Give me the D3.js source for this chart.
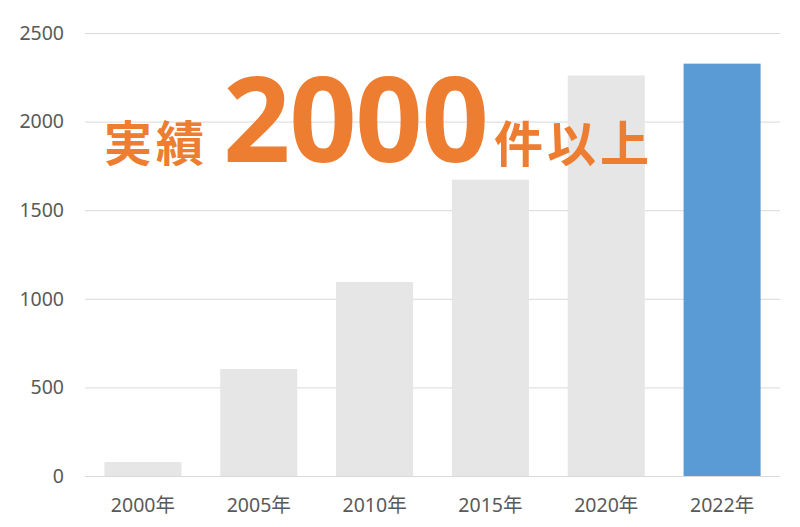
<!DOCTYPE html>
<html>
<head>
<meta charset="utf-8">
<script src="https://cdn.jsdelivr.net/npm/d3@7"></script>
<style>
  body { margin: 0; background: #fff; }
  text { font-family: "Noto Sans", "Noto Sans CJK JP", sans-serif; }
</style>
</head>
<body>
<div id="chart"></div>
<script>
const years = ["2000年", "2005年", "2010年", "2015年", "2020年", "2022年"];
const counts = [79, 604, 1095, 1672, 2260, 2327];
const yTicks = [0, 500, 1000, 1500, 2000, 2500];
const highlight = "2022年";

const width = 800;
const height = 527;
const margin = { top: 33, right: 20, bottom: 51, left: 85 };

const svg = d3.select("#chart").append("svg")
  .attr("width", width)
  .attr("height", height);

const x = d3.scaleBand()
  .domain(years)
  .range([margin.left, width - margin.right])
  .paddingInner(0.335)
  .paddingOuter(0.1675);

const y = d3.scaleLinear()
  .domain([0, 2500])
  .range([height - margin.bottom, margin.top]);

// gridlines
svg.append("g")
  .selectAll("line")
  .data(yTicks)
  .join("line")
    .attr("x1", margin.left)
    .attr("x2", width - margin.right)
    .attr("y1", d => y(d) + 0.5)
    .attr("y2", d => y(d) + 0.5)
    .attr("stroke", "#d9d9d9")
    .attr("stroke-width", 1);

// bars
svg.append("g")
  .selectAll("rect")
  .data(years)
  .join("rect")
    .attr("x", d => x(d))
    .attr("width", x.bandwidth())
    .attr("y", (d, i) => y(counts[i]))
    .attr("height", (d, i) => y(0) - y(counts[i]))
    .attr("fill", d => d === highlight ? "#5b9bd5" : "#e7e6e6");

// y axis labels
const yAxis = svg.append("g")
  .attr("transform", `translate(${margin.left - 21},0)`)
  .call(d3.axisLeft(y).tickValues(yTicks).tickFormat(d3.format("d")).tickSize(0).tickPadding(0));
yAxis.select(".domain").remove();
yAxis.selectAll("text")
  .attr("font-size", 19.5)
  .attr("fill", "#595959")
  .style("font-family", "'Noto Sans', sans-serif");

// x axis labels
const xAxis = svg.append("g")
  .attr("transform", `translate(0,${y(0)})`)
  .call(d3.axisBottom(x).tickSize(0).tickPadding(22));
xAxis.select(".domain").remove();
xAxis.selectAll("text")
  .attr("font-size", 19.5)
  .attr("fill", "#595959")
  .style("font-family", "'Noto Sans', 'Noto Sans CJK JP', sans-serif");

// headline
const orange = "#ed7d31";
svg.append("text")
  .attr("x", 104)
  .attr("y", 161)
  .attr("font-size", 48)
  .attr("font-weight", 700)
  .attr("fill", orange)
  .attr("letter-spacing", 4)
  .style("font-family", "'Noto Sans CJK JP', sans-serif")
  .text("実績");

svg.append("text")
  .attr("x", 223)
  .attr("y", 162)
  .attr("font-size", 118)
  .attr("font-weight", 700)
  .attr("fill", orange)
  .style("font-family", "'Open Sans', sans-serif")
  .attr("textLength", 266)
  .text("2000");

svg.append("text")
  .attr("x", 494)
  .attr("y", 162)
  .attr("font-size", 49)
  .attr("font-weight", 700)
  .attr("fill", orange)
  .attr("letter-spacing", 4)
  .style("font-family", "'Noto Sans CJK JP', sans-serif")
  .text("件以上");
</script>
</body>
</html>
